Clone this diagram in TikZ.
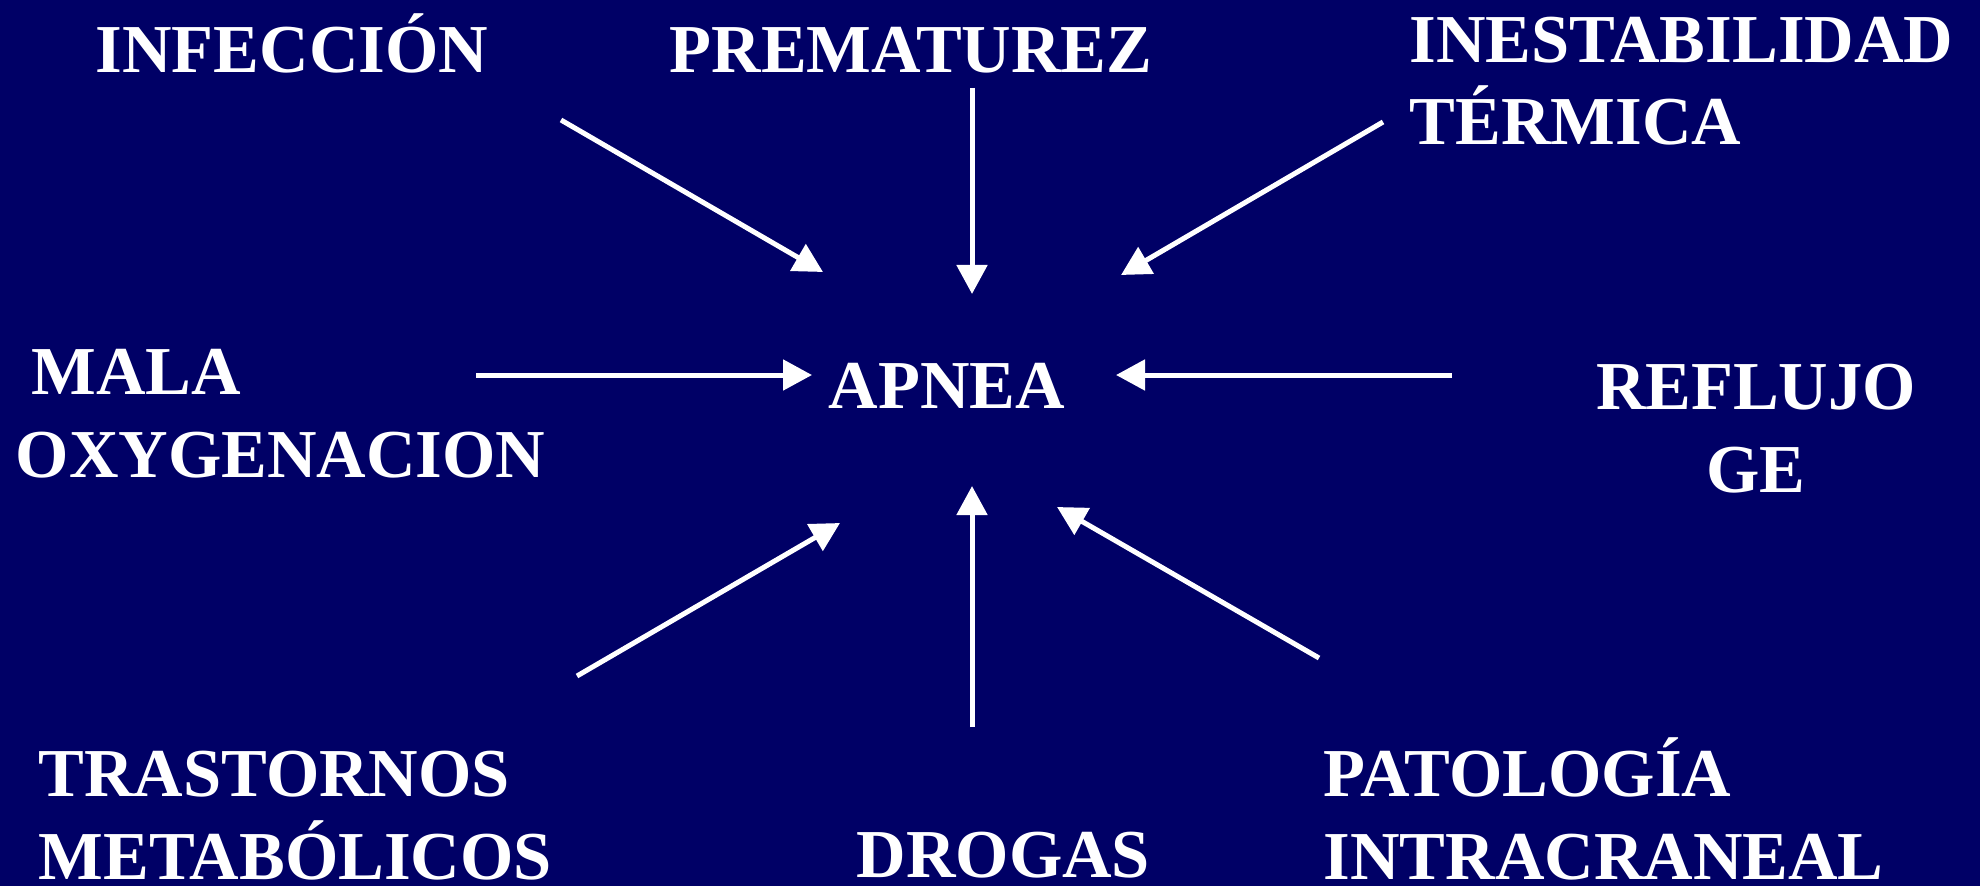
\documentclass[tikz,border=0pt]{standalone}
\usepackage{fontspec}
\setmainfont{Liberation Serif}
\usetikzlibrary{arrows.meta}
\definecolor{slidebg}{RGB}{0,0,102}

\begin{document}
\begin{tikzpicture}[x=0.01cm, y=-0.01cm,
        lbl/.style={anchor=base west, inner sep=0pt, text=white,
            font=\bfseries\fontsize{19.5}{23.6}\selectfont, align=left},
        arr/.style={white, line width=0.05cm, -{Triangle[length=0.29cm, width=0.3cm]}}]
            % Draw the background
            \useasboundingbox (0,0) rectangle (1980,885);
            \fill[slidebg] (-10,-10) rectangle (1990,895);

            % Draw node for the centre
            \node[lbl] (apnea) at (828,408) {APNEA};

            % Draw nodes for the causes (two-line nodes sit on their last line)
            \node[lbl] (inf) at (95,73) {INFECCIÓN};
            \node[lbl] (prem) at (669,73) {PREMATUREZ};
            \node[lbl] (inest) at (1409,145) {INESTABILIDAD\\TÉRMICA};
            \node[lbl] (mala) at (15,477) {\hspace*{0.16cm}MALA\\OXYGENACION};
            \node[lbl, align=center, anchor=base] (refl) at (1756,492) {REFLUJO\\GE};
            \node[lbl] (trast) at (38,879) {TRASTORNOS\\METABÓLICOS};
            \node[lbl] (drog) at (856,877) {DROGAS};
            \node[lbl] (pato) at (1323,879) {PATOLOGÍA\\INTRACRANEAL};

            % Arrow end points
            \coordinate (inf-a) at (561,120);   \coordinate (inf-b) at (823,272);
            \coordinate (prem-a) at (972,88);   \coordinate (prem-b) at (972,294);
            \coordinate (inest-a) at (1383,122); \coordinate (inest-b) at (1121,275);
            \coordinate (mala-a) at (476,375);  \coordinate (mala-b) at (812,375);
            \coordinate (refl-a) at (1452,375); \coordinate (refl-b) at (1116,375);
            \coordinate (trast-a) at (577,676); \coordinate (trast-b) at (840,523);
            \coordinate (drog-a) at (972,727);  \coordinate (drog-b) at (972,486);
            \coordinate (pato-a) at (1319,658); \coordinate (pato-b) at (1057,507);

            % Draw arrows towards APNEA
            \draw[arr] (inf-a) -- (inf-b);
            \draw[arr] (prem-a) -- (prem-b);
            \draw[arr] (inest-a) -- (inest-b);
            \draw[arr] (mala-a) -- (mala-b);
            \draw[arr] (refl-a) -- (refl-b);
            \draw[arr] (trast-a) -- (trast-b);
            \draw[arr] (drog-a) -- (drog-b);
            \draw[arr] (pato-a) -- (pato-b);

        \end{tikzpicture}
\end{document}
